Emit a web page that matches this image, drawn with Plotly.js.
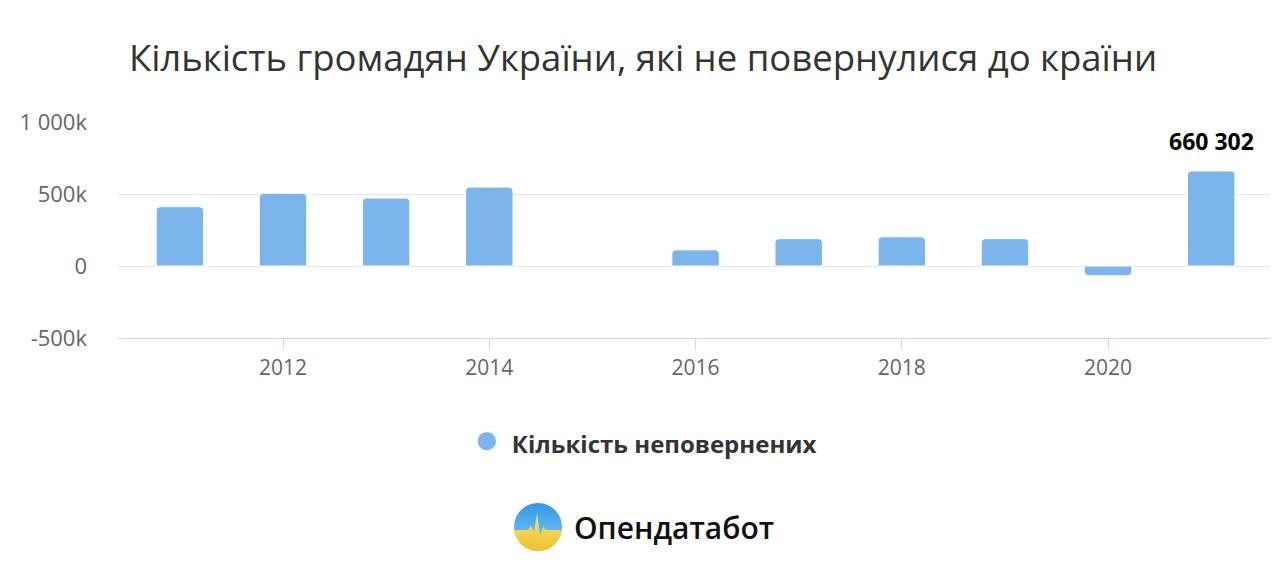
<!DOCTYPE html>
<html>
<head>
<meta charset="utf-8">
<script src="https://cdn.plot.ly/plotly-3.0.1.min.js"></script>
<style>html,body{margin:0;padding:0;background:#fff;}#chart{width:1280px;height:566px;}</style>
</head>
<body>
<div id="chart"></div>
<script>
const years = [2011, 2012, 2013, 2014, 2015, 2016, 2017, 2018, 2019, 2020, 2021];
const notReturned = [412000, 505000, 472000, 548000, null, 112000, 190000, 203000, 190000, -68000, 660302];
const seriesName = 'Кількість неповернених';
const chartTitle = 'Кількість громадян України, які не повернулися до країни';
const yTickVals = [-500000, 0, 500000, 1000000];
const yTickText = ['-500k', '0', '500k', '1 000k'];
const labelYear = 2021;
const labelText = '660 302';
const brandName = 'Опендатабот';

const W = 1280, H = 566, L = 118, R = 10, T = 122, B = 228;
const pw = W - L - R, ph = H - T - B;
const px = v => (v - L) / pw;
const py = v => (H - B - v) / ph;

const logoSvg = '<svg xmlns="http://www.w3.org/2000/svg" width="100" height="100" viewBox="0 0 100 100">' +
  '<defs><linearGradient id="b" x1="0" y1="0" x2="0" y2="1"><stop offset="0" stop-color="#2f95e6"/><stop offset="1" stop-color="#86d0f2"/></linearGradient>' +
  '<linearGradient id="y" x1="0" y1="0" x2="0" y2="1"><stop offset="0" stop-color="#f8e46e"/><stop offset="1" stop-color="#f0bf2c"/></linearGradient>' +
  '<clipPath id="c"><circle cx="50" cy="50" r="48"/></clipPath></defs>' +
  '<g clip-path="url(#c)"><rect x="0" y="0" width="100" height="100" fill="url(#b)"/>' +
  '<path d="M0,56 L30,56 L36,48 L42,60 L48,22 L54,66 L60,50 L66,56 L100,56 L100,100 L0,100 Z" fill="url(#y)"/></g></svg>';
const logoUri = 'data:image/svg+xml;base64,' + btoa(logoSvg);

const traces = [
  {
    type: 'bar',
    x: years,
    y: notReturned,
    name: seriesName,
    width: 0.46,
    marker: { color: '#7cb5ec', cornerradius: 4, line: { color: '#ffffff', width: 1 } },
    showlegend: false,
    hoverinfo: 'x+y'
  }
];

const layout = {
  width: W,
  height: H,
  margin: { l: L, r: R, t: T, b: B, pad: 0 },
  paper_bgcolor: '#ffffff',
  plot_bgcolor: '#ffffff',
  font: { family: 'Open Sans, Noto Sans, sans-serif', color: '#666666' },
  title: {
    text: chartTitle,
    font: { family: 'Open Sans, Noto Sans, sans-serif', size: 36.5, color: '#333333' },
    x: 643 / W, xref: 'container', xanchor: 'center',
    y: 1 - 58 / H, yref: 'container', yanchor: 'middle'
  },
  xaxis: {
    range: [2010.4, 2021.57],
    tickmode: 'linear', tick0: 2012, dtick: 2,
    ticks: 'outside', ticklen: 11, tickcolor: '#ccd6eb', tickwidth: 1,
    showline: true, linecolor: '#ccd6eb', linewidth: 1,
    showgrid: false, zeroline: false,
    tickfont: { size: 21, color: '#666666' },
    fixedrange: true
  },
  yaxis: {
    range: [-500000, 1000000],
    tickvals: yTickVals, ticktext: yTickText,
    showgrid: true, gridcolor: '#e6e6e6', gridwidth: 1,
    zeroline: false, showline: false,
    ticks: '', ticklabelstandoff: 30,
    tickfont: { size: 22, color: '#666666' },
    fixedrange: true
  },
  showlegend: false,
  annotations: [
    {
      x: labelYear, y: notReturned[years.indexOf(labelYear)],
      xref: 'x', yref: 'y',
      text: '<b>' + labelText + '</b>',
      showarrow: false, yanchor: 'bottom', yshift: 12,
      font: { family: 'Open Sans, Noto Sans, sans-serif', size: 23, color: '#000000' }
    },
    {
      x: px(472), y: py(436),
      xref: 'paper', yref: 'paper',
      xanchor: 'left', yanchor: 'middle',
      text: '<span style="color:#7cb5ec;font-size:42px">●</span>  <b>' + seriesName + '</b>',
      showarrow: false,
      font: { family: 'Open Sans, Noto Sans, sans-serif', size: 24, color: '#333333' }
    },
    {
      x: px(572), y: py(527),
      xref: 'paper', yref: 'paper',
      xanchor: 'left', yanchor: 'middle',
      text: brandName, showarrow: false,
      font: { family: 'Open Sans, Noto Sans, sans-serif', size: 30, color: '#111111', weight: 600 }
    }
  ],
  images: [
    {
      source: logoUri,
      xref: 'paper', yref: 'paper',
      x: px(513), y: py(502),
      sizex: 50 / pw, sizey: 50 / ph,
      xanchor: 'left', yanchor: 'top',
      sizing: 'stretch', layer: 'above'
    }
  ]
};

Plotly.newPlot('chart', traces, layout, { displayModeBar: false, staticPlot: true });
</script>
</body>
</html>
